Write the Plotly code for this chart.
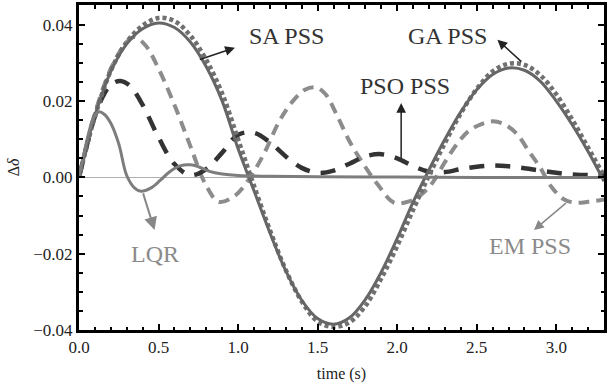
import plotly.graph_objects as go

# ---------------- data ----------------
t_sa = [0, 0.05, 0.1, 0.2, 0.3, 0.4, 0.5, 0.6, 0.7, 0.8, 0.9, 1.0, 1.1, 1.2, 1.3, 1.4, 1.5, 1.6, 1.7,
        1.8, 1.9, 2.0, 2.1, 2.2, 2.3, 2.4, 2.5, 2.6, 2.7, 2.8, 2.9, 3.0, 3.1, 3.2, 3.3]
sa_pss = [0, 0.0085, 0.0162, 0.0278, 0.0350, 0.0390, 0.0405, 0.0393, 0.0355, 0.0290, 0.0200, 0.0075,
          -0.0035, -0.0145, -0.0245, -0.0322, -0.0370, -0.0385, -0.0368, -0.0320, -0.0248, -0.0160,
          -0.0065, 0.0020, 0.0100, 0.0172, 0.0230, 0.0270, 0.0287, 0.0281, 0.0252, 0.0200, 0.0138,
          0.0068, -0.0010]

t_ga = t_sa
ga_pss = [0, 0.0083, 0.0160, 0.0280, 0.0355, 0.0398, 0.0418, 0.0410, 0.0372, 0.0308, 0.0220, 0.0100,
          -0.0022, -0.0138, -0.0243, -0.0325, -0.0378, -0.0392, -0.0380, -0.0337, -0.0265, -0.0180,
          -0.0085, 0.0005, 0.0090, 0.0168, 0.0232, 0.0278, 0.0298, 0.0295, 0.0268, 0.0218, 0.0152,
          0.0078, 0.0005]

t_pso = [0, 0.05, 0.1, 0.15, 0.2, 0.26, 0.32, 0.4, 0.5, 0.6, 0.7, 0.8, 0.9, 1.0, 1.1, 1.2, 1.3, 1.4,
         1.5, 1.6, 1.7, 1.8, 1.9, 2.0, 2.1, 2.2, 2.3, 2.4, 2.5, 2.6, 2.7, 2.8, 2.9, 3.0, 3.1, 3.2, 3.3]
pso_pss = [0, 0.0085, 0.0160, 0.0212, 0.0243, 0.0253, 0.0240, 0.0190, 0.0105, 0.0035, 0.0006, 0.0022,
           0.0065, 0.0112, 0.0117, 0.0092, 0.0055, 0.0025, 0.0012, 0.0018, 0.0036, 0.0055, 0.0061,
           0.0050, 0.0030, 0.0015, 0.0014, 0.0022, 0.0028, 0.0031, 0.0029, 0.0024, 0.0018, 0.0012,
           0.0008, 0.0006, 0.0006]

t_em = [0, 0.05, 0.1, 0.2, 0.3, 0.35, 0.42, 0.5, 0.6, 0.7, 0.8, 0.88, 0.98, 1.06, 1.16, 1.26, 1.34,
        1.42, 1.49, 1.55, 1.62, 1.7, 1.78, 1.88, 1.98, 2.08, 2.15, 2.22, 2.3, 2.38, 2.45, 2.53, 2.6,
        2.67, 2.75, 2.83, 2.9, 2.97, 3.05, 3.12, 3.2, 3.3]
em_pss = [0, 0.0088, 0.0168, 0.0285, 0.0355, 0.0368, 0.0345, 0.0285, 0.0190, 0.0082, -0.0022, -0.0064,
          -0.0048, -0.0010, 0.0060, 0.0148, 0.0198, 0.0230, 0.0236, 0.0218, 0.0164, 0.0095, 0.0040,
          -0.0020, -0.0066, -0.0062, -0.0045, -0.0015, 0.0040, 0.0090, 0.0122, 0.0140, 0.0147,
          0.0140, 0.0115, 0.0067, 0.0025, -0.0025, -0.0058, -0.0066, -0.0064, -0.0058]

t_lqr = [0, 0.03, 0.06, 0.09, 0.125, 0.16, 0.2, 0.25, 0.3, 0.35, 0.39, 0.45, 0.51, 0.57, 0.64, 0.7,
         0.75, 0.82, 0.9, 1.0, 1.2, 1.5, 2.0, 2.5, 3.0, 3.3]
lqr = [0, 0.0060, 0.0115, 0.0155, 0.0172, 0.0165, 0.0142, 0.0088, 0.0005, -0.0028, -0.0036, -0.0028,
       -0.0008, 0.0015, 0.0031, 0.0033, 0.0028, 0.0016, 0.0009, 0.0005, 0.0003, 0.0002, 0.0001, 0.0,
       0.0, 0.0]

x_ticks = [0.0, 0.5, 1.0, 1.5, 2.0, 2.5, 3.0]
y_ticks = [-0.04, -0.02, 0.0, 0.02, 0.04]

# ---------------- figure ----------------
fig = go.Figure()

def add(t, y, color, width, dash):
    fig.add_trace(go.Scatter(x=t, y=y, mode="lines",
                             line=dict(color=color, width=width, dash=dash, shape="spline", smoothing=1.0),
                             hoverinfo="skip", showlegend=False))

add(t_em, em_pss, "#8c8c8c", 4, "11px,7px")
add(t_pso, pso_pss, "#333333", 4.5, "15px,11px")
add(t_ga, ga_pss, "#707070", 4.5, "4px,3px")
add(t_sa, sa_pss, "#666666", 3, "solid")
add(t_lqr, lqr, "#7d7d7d", 3, "solid")

serif = "Liberation Serif"
lab_font = dict(family=serif, size=24, color="#333333")
gray_font = dict(family=serif, size=24, color="#8a8a8a")

texts = [
    ("SA PSS", 1.303, 0.0372, lab_font),
    ("GA PSS", 2.316, 0.0372, lab_font),
    ("PSO PSS", 2.05, 0.0239, lab_font),
    ("LQR", 0.475, -0.0201, gray_font),
    ("EM PSS", 2.8375, -0.0181, gray_font),
]
for txt, x, y, f in texts:
    fig.add_annotation(x=x, y=y, text=txt, showarrow=False, font=f,
                       xanchor="center", yanchor="middle")

arrows = [
    # head x, head y, tail x, tail y, color, width
    (0.98, 0.0340, 0.75, 0.0308, "#222222", 1.5),
    (2.63, 0.0361, 2.79, 0.0300, "#222222", 1.5),
    (2.025, 0.0195, 2.025, 0.0046, "#222222", 1.5),
    (0.475, -0.0138, 0.40, -0.0038, "#888888", 2),
    (2.86, -0.0138, 3.07, -0.0064, "#888888", 1.5),
]
for hx, hy, tx, ty, c, w in arrows:
    fig.add_annotation(x=hx, y=hy, ax=tx, ay=ty, xref="x", yref="y", axref="x", ayref="y",
                       text="", showarrow=True, arrowhead=2, arrowsize=1.3, arrowwidth=w,
                       arrowcolor=c, standoff=0, startstandoff=0)

tick_font = dict(family=serif, size=17, color="#222222")

fig.update_xaxes(range=[0, 3.3], tickvals=x_ticks, ticktext=[f"{v:.1f}" for v in x_ticks],
                 ticks="inside", ticklen=6, tickwidth=2, tickcolor="black",
                 minor=dict(dtick=0.1, tick0=0, ticks="inside", ticklen=3.5, tickwidth=1.5, tickcolor="black"),
                 showline=True, linewidth=3, linecolor="black", mirror="ticks",
                 showgrid=False, zeroline=False, tickfont=tick_font,
                 title=dict(text="time (s)", font=dict(family=serif, size=16, color="#222222"), standoff=12))
fig.update_yaxes(range=[-0.04, 0.0452], tickvals=y_ticks,
                 ticktext=[("\u2212" if v < 0 else "") + f"{abs(v):.2f}" for v in y_ticks],
                 ticks="inside", ticklen=6, tickwidth=2, tickcolor="black",
                 minor=dict(dtick=0.005, tick0=0, ticks="inside", ticklen=3.5, tickwidth=1.5, tickcolor="black"),
                 showline=True, linewidth=3, linecolor="black", mirror="ticks",
                 showgrid=False, zeroline=True, zerolinecolor="#b0b0b0", zerolinewidth=1,
                 tickfont=tick_font,
                 title=dict(text="\u0394<i>\u03b4</i>", font=dict(family=serif, size=16, color="#222222"), standoff=10))

fig.update_layout(width=609, height=384, margin=dict(l=79, r=2, t=5, b=54),
                  paper_bgcolor="white", plot_bgcolor="white", showlegend=False)

fig.write_html("out.html")
